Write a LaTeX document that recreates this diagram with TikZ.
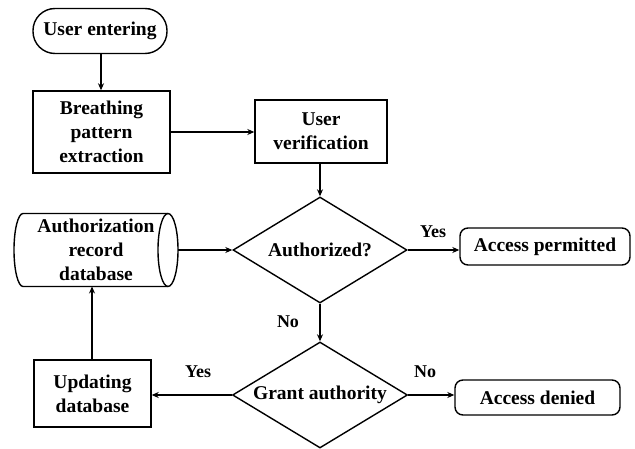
\documentclass[tikz,border=0pt]{standalone}
\usepackage{fontspec}
\setmainfont{Liberation Serif}
\newfontfamily\tnrbold{Liberation Serif Bold}
\usetikzlibrary{shapes.geometric,arrows.meta}
\begin{document}
\begin{tikzpicture}[x=1pt,y=1pt,
  every node/.style={font=\fontsize{19.5}{24}\selectfont\tnrbold, align=center, inner sep=0pt},
  box/.style={draw, line width=1.4pt, rectangle},
  term/.style={draw, line width=1.4pt, rectangle, rounded corners=8pt},
  dia/.style={draw, line width=1.4pt, diamond, aspect=1.64},
  arr/.style={line width=1.4pt, -{Stealth[length=7pt,width=6pt]}},
  lbl/.style={font=\fontsize{18}{20}\selectfont\tnrbold}]
\useasboundingbox (0,0) rectangle (635,448);
\fill[white] (0,0) rectangle (635,448);
\node[box, rounded corners=22pt, minimum width=134pt, minimum height=45pt] (start) at (100,417) {User entering};
\node[box, minimum width=137pt, minimum height=82pt] (extract) at (101.5,316) {Breathing\\pattern\\extraction};
\node[box, minimum width=132pt, minimum height=63pt] (verify) at (321,316.5) {User\\verification};
\node[dia, minimum width=174pt, minimum height=106pt] (auth) at (320,198) {Authorized?};
\node[minimum width=164pt, minimum height=73pt] (db) at (96,198) {Authorization\\record\\database};
\draw[line width=1.4pt] (23,234.5) -- (168,234.5) arc[start angle=90, end angle=-90, x radius=10, y radius=36.5]
  -- (23,161.5) arc[start angle=270, end angle=90, x radius=9, y radius=36.5] -- cycle;
\draw[line width=1.4pt] (168,234.5) arc[start angle=90, end angle=270, x radius=10, y radius=36.5];
\node[term, minimum width=170pt, minimum height=37pt] (perm) at (545,201.5) {Access permitted};
\node[dia, minimum width=175pt, minimum height=106pt] (grant) at (320,53) {Grant authority};
\node[box, minimum width=117pt, minimum height=67pt] (update) at (92.5,54.5) {Updating\\database};
\node[term, minimum width=165pt, minimum height=35pt] (denied) at (537.5,50.5) {Access denied};
\coordinate (dbE) at (178,198);
\coordinate (dbS) at (92,161.5);
\draw[arr] (start.south -| 101,0) -- (extract.north -| 101,0);
\draw[arr] (extract.east) -- (verify.west |- extract.east);
\draw[arr] (verify.south -| auth.north) -- (auth.north);
\draw[arr] (dbE) -- (auth.west);
\draw[arr] (auth.east) -- (perm.west |- auth.east);
\draw[arr] (auth.south) -- (grant.north);
\draw[arr] (grant.west) -- (update.east |- grant.west);
\draw[arr] (grant.east) -- (denied.west |- grant.east);
\draw[arr] (update.north -| dbS) -- (dbS);
\node[lbl] (y1) at (433,216) {Yes};
\node[lbl] (n1) at (288,126) {No};
\node[lbl] (y2) at (198,76) {Yes};
\node[lbl] (n2) at (425,76) {No};
\end{tikzpicture}
\end{document}
